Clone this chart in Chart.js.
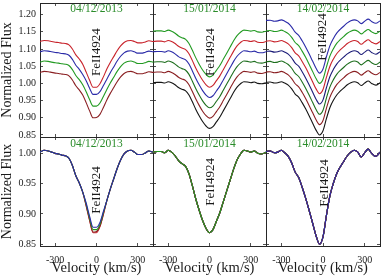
<!DOCTYPE html>
<html>
<head>
<meta charset="utf-8">
<script src="https://cdn.jsdelivr.net/npm/chart.js@4.4.1/dist/chart.umd.min.js"></script>
<style>
    html, body { margin: 0; padding: 0; background: #fff; }
    #fig { position: relative; width: 382px; height: 280px; }
    #fig canvas { position: absolute; left: 0; top: 0; }
</style>
</head>
<body>
<div id="fig"></div>
<script>
// Velocity grid (km/s) shared by all spectra
const velocity = [-410, -380, -350, -325, -300, -275, -250, -225, -200, -175, -150, -125, -100, -75, -50, -25, 0,
    25, 50, 75, 100, 125, 150, 175, 200, 225, 250, 275, 300, 325, 350, 380, 410];

const dates = ['04/12/2013', '15/01/2014', '14/02/2014'];
const lineName = 'FeII4924';
const xTicks = [-300, 0, 300];
const topTicks = [0.85, 0.90, 0.95, 1.00, 1.05, 1.10, 1.15, 1.20];
const bottomTicks = [0.85, 0.90, 0.95, 1.00];

// 04/12/2013 spectra
const dec04Red    = [1.002, 1.005, 1.004, 1.002, 1.000, 0.999, 0.997, 0.996, 0.992, 0.980, 0.963, 0.951, 0.936, 0.913, 0.889, 0.869, 0.869, 0.879, 0.899, 0.922, 0.941, 0.958, 0.975, 0.989, 0.999, 1.004, 1.005, 1.002, 0.998, 0.998, 1.000, 1.004, 1.002];
const dec04Blue   = [1.002, 1.005, 1.004, 1.002, 1.000, 0.999, 0.997, 0.996, 0.992, 0.980, 0.963, 0.951, 0.936, 0.918, 0.896, 0.878, 0.878, 0.886, 0.904, 0.922, 0.941, 0.958, 0.975, 0.989, 0.999, 1.004, 1.005, 1.002, 0.998, 0.998, 1.000, 1.004, 1.002];
const dec04Green  = [1.002, 1.005, 1.004, 1.002, 1.000, 0.999, 0.997, 0.996, 0.992, 0.980, 0.963, 0.951, 0.936, 0.916, 0.893, 0.874, 0.874, 0.883, 0.902, 0.922, 0.941, 0.958, 0.975, 0.989, 0.999, 1.004, 1.005, 1.002, 0.998, 0.998, 1.000, 1.004, 1.002];
const dec04Maroon = [1.002, 1.005, 1.004, 1.002, 1.000, 0.999, 0.997, 0.996, 0.992, 0.980, 0.963, 0.951, 0.936, 0.914, 0.890, 0.870, 0.871, 0.880, 0.900, 0.922, 0.941, 0.958, 0.975, 0.989, 0.999, 1.004, 1.005, 1.002, 0.998, 0.998, 1.000, 1.004, 1.002];

// 15/01/2014 and 14/02/2014 spectra (all nights overlap)
const jan15Flux = [1.002, 1.003, 1.003, 1.001, 1.005, 1.002, 0.996, 0.988, 0.983, 0.979, 0.967, 0.947, 0.925, 0.906, 0.889, 0.876, 0.869, 0.874, 0.888, 0.902, 0.920, 0.938, 0.956, 0.974, 0.989, 0.999, 1.005, 1.004, 1.002, 1.004, 1.000, 0.999, 1.002];
const feb14Flux = [1.003, 1.004, 1.001, 1.002, 1.005, 1.001, 0.995, 0.984, 0.969, 0.960, 0.944, 0.926, 0.906, 0.885, 0.864, 0.850, 0.862, 0.898, 0.930, 0.951, 0.967, 0.978, 0.987, 0.996, 1.002, 1.005, 1.002, 0.994, 1.001, 1.007, 1.000, 0.995, 1.002];

// vertical shifts used in the stacked (top) row
const dec04Offsets = [0.12, 0.09, 0.06, 0.03];
const jan15Offsets = [0.15, 0.12, 0.09, 0.06, 0.03, 0];
const feb14Offsets = [0.18, 0.15, 0.12, 0.09, 0.06, 0.03, 0];

const RED = '#c8232b', BLUE = '#2b2ba8', GREEN = '#229a22', MAROON = '#8a1f22';
const NAVY = '#1c1c78', DKGREEN = '#1d6e1d', BLACK = '#151515';

// bottomOrder: first index ends up drawn on top (chart.js paints dataset 0 last)
const panels = [
    { spectra: [dec04Red, dec04Blue, dec04Green, dec04Maroon], offsets: dec04Offsets,
      colors: [RED, BLUE, GREEN, MAROON], bottomOrder: [1, 2, 3, 0],
      labelTop: [2, 1.091], labelBottom: [4, 0.9395] },
    { spectra: [jan15Flux, jan15Flux, jan15Flux, jan15Flux, jan15Flux, jan15Flux], offsets: jan15Offsets,
      colors: [GREEN, RED, BLUE, DKGREEN, MAROON, BLACK], bottomOrder: [0, 1, 2, 3, 4, 5],
      labelTop: [10, 1.091], labelBottom: [10, 0.953] },
    { spectra: [feb14Flux, feb14Flux, feb14Flux, feb14Flux, feb14Flux, feb14Flux, feb14Flux], offsets: feb14Offsets,
      colors: [BLUE, GREEN, RED, NAVY, DKGREEN, MAROON, BLACK], bottomOrder: [0, 2, 1, 3, 4, 5, 6],
      labelTop: [-2, 1.135], labelBottom: [13, 0.951] }
];

// figure geometry
const W = 382, H = 280;
const cols = [40, 153, 266, 380];
const rows = [3, 137, 246];
const rowRange = [[0.844, 1.234], [0.847, 1.027]];
const serif = "'Liberation Serif', 'Times New Roman', serif";
const frameColor = '#262626';
const textColor = '#1a1a1a';

// Plugin for the date and line labels
const panelText = {
    id: 'panelText',
    afterDatasetsDraw(chart, args, opts) {
        const { ctx, chartArea, scales } = chart;
        ctx.save();
        ctx.textAlign = 'center';
        ctx.textBaseline = 'middle';
        ctx.fillStyle = '#2a8c2a';
        ctx.font = `11.5px ${serif}`;
        ctx.fillText(opts.date, (chartArea.left + chartArea.right) / 2, chartArea.top + opts.dateDy);
        ctx.translate(scales.x.getPixelForValue(opts.at[0]), scales.y.getPixelForValue(opts.at[1]));
        ctx.rotate(-Math.PI / 2);
        ctx.fillStyle = textColor;
        ctx.font = `13px ${serif}`;
        ctx.fillText(opts.line, 0, 0);
        ctx.restore();
    }
};

function fixSize(size) {
    return s => {
        if (s.isHorizontal()) s.height = size; else s.width = size;
        s.paddingLeft = s.paddingRight = s.paddingTop = s.paddingBottom = 0;
    };
}

function makeScales(r, c) {
    const [ymin, ymax] = rowRange[r];
    const yTicks = r === 0 ? topTicks : bottomTicks;
    const grid = { drawOnChartArea: false, tickLength: -3, tickColor: frameColor, tickWidth: 0.8 };
    const border = { color: frameColor, width: 1 };
    const setX = s => { s.ticks = xTicks.map(value => ({ value })); };
    const setY = s => { s.ticks = yTicks.map(value => ({ value })); };
    return {
        x: {
            type: 'linear', position: 'bottom', min: -410, max: 410, grid, border,
            afterBuildTicks: setX,
            ticks: { display: r === 1, padding: 11, color: textColor, maxRotation: 0,
                     font: { family: serif, size: 10 }, callback: v => String(v) },
            title: { display: r === 1, text: 'Velocity (km/s)', color: textColor,
                     font: { family: serif, size: 14.5 }, padding: { top: 0, bottom: 3 } },
            afterFit: fixSize(r === 1 ? H - rows[2] : 0)
        },
        xTop: {
            type: 'linear', position: 'top', min: -410, max: 410, grid, border,
            afterBuildTicks: setX, ticks: { display: false }, afterFit: fixSize(0)
        },
        y: {
            type: 'linear', position: 'left', min: ymin, max: ymax, grid, border,
            afterBuildTicks: setY,
            ticks: { display: c === 0, padding: 7, color: textColor,
                     font: { family: serif, size: 10 }, callback: v => v.toFixed(2) },
            title: { display: c === 0, text: 'Normalized Flux', color: textColor,
                     font: { family: serif, size: 14, lineHeight: 1 }, padding: 0 },
            afterFit: fixSize(c === 0 ? cols[0] : 0)
        },
        yRight: {
            type: 'linear', position: 'right', min: ymin, max: ymax, grid, border,
            afterBuildTicks: setY, ticks: { display: false }, afterFit: fixSize(0)
        }
    };
}

function makeDatasets(p, r) {
    if (r === 0) {
        return p.spectra.map((flux, i) => ({
            data: velocity.map((v, k) => ({ x: v, y: flux[k] + p.offsets[i] })),
            borderColor: p.colors[i]
        }));
    }
    return p.bottomOrder.map(i => ({
        data: velocity.map((v, k) => ({ x: v, y: p.spectra[i][k] })),
        borderColor: p.colors[i]
    }));
}

const fig = document.getElementById('fig');
for (let r = 0; r < 2; r++) {
    for (let c = 0; c < 3; c++) {
        const p = panels[c];
        const canvas = document.createElement('canvas');
        canvas.width = W;
        canvas.height = H;
        fig.appendChild(canvas);

        new Chart(canvas.getContext('2d'), {
            type: 'line',
            data: { datasets: makeDatasets(p, r) },
            options: {
                responsive: false,
                devicePixelRatio: 1,
                animation: false,
                events: [],
                elements: {
                    line: { borderWidth: 1.1, cubicInterpolationMode: 'monotone', fill: false },
                    point: { radius: 0 }
                },
                layout: {
                    autoPadding: false,
                    padding: {
                        left: c === 0 ? 0 : cols[c],
                        right: W - cols[c + 1],
                        top: rows[r],
                        bottom: r === 1 ? 0 : H - rows[r + 1]
                    }
                },
                scales: makeScales(r, c),
                plugins: {
                    legend: { display: false },
                    tooltip: { enabled: false },
                    panelText: {
                        date: dates[c], line: lineName,
                        dateDy: r === 0 ? 6.3 : 7,
                        at: r === 0 ? p.labelTop : p.labelBottom
                    }
                }
            },
            plugins: [panelText]
        });
    }
}
</script>
</body>
</html>
